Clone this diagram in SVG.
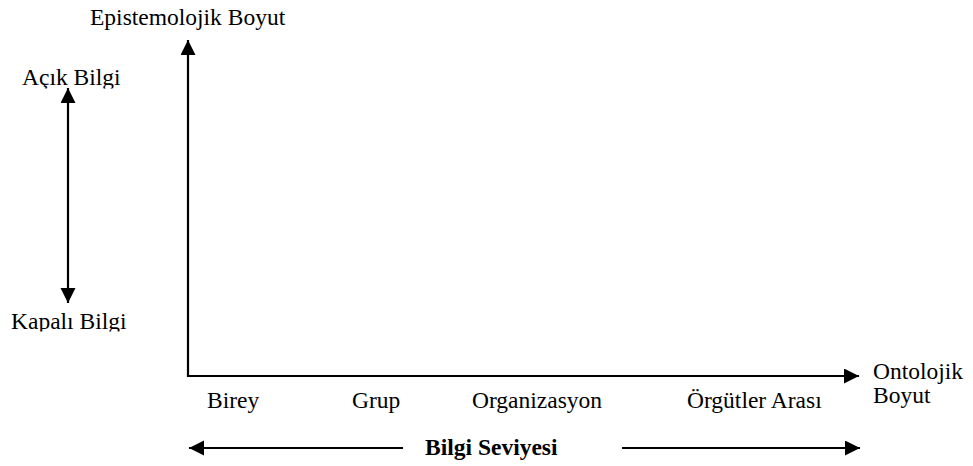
<svg xmlns="http://www.w3.org/2000/svg" width="973" height="466" viewBox="0 0 973 466">
<style>
text{font-family:"Liberation Serif","Times New Roman",serif;font-size:23.5px;fill:#000}
.b{font-weight:bold}
.ln{stroke:#000;stroke-width:2.2;fill:none}
</style>
<defs>
<marker id="ah" markerUnits="userSpaceOnUse" markerWidth="16" markerHeight="16" refX="15" refY="7.5" orient="auto-start-reverse" viewBox="0 0 16 16">
<path d="M0,0 L15,7.5 L0,15 z" fill="#000"/>
</marker>
<clipPath id="c1"><rect x="0" y="60" width="160" height="28.5"/></clipPath>
<clipPath id="c2"><rect x="0" y="305" width="160" height="26.5"/></clipPath>
</defs>
<g id="connectors">
<line class="ln" x1="188" y1="377" x2="188" y2="40" marker-end="url(#ah)"/>
<line class="ln" x1="187" y1="376" x2="859" y2="376" marker-end="url(#ah)"/>
<line class="ln" x1="68" y1="88" x2="68" y2="303" marker-start="url(#ah)" marker-end="url(#ah)"/>
<line class="ln" x1="403" y1="448" x2="189" y2="448" marker-end="url(#ah)"/>
<line class="ln" x1="622" y1="448" x2="860" y2="448" marker-end="url(#ah)"/>
</g>
<g id="epistemolojik"><text x="90" y="25">Epistemolojik Boyut</text></g>
<g id="acik"><text x="22" y="85" clip-path="url(#c1)">Açık Bilgi</text></g>
<g id="kapali"><text x="11" y="329" clip-path="url(#c2)">Kapalı Bilgi</text></g>
<g id="ontolojik"><text x="873" y="379">Ontolojik</text><text x="873" y="403">Boyut</text></g>
<g id="birey"><text x="207" y="408">Birey</text></g>
<g id="grup"><text x="352" y="408">Grup</text></g>
<g id="organizasyon"><text x="472" y="408">Organizasyon</text></g>
<g id="orgutler"><text x="687" y="408">Örgütler Arası</text></g>
<g id="seviye"><text class="b" x="425" y="455">Bilgi Seviyesi</text></g>
</svg>
